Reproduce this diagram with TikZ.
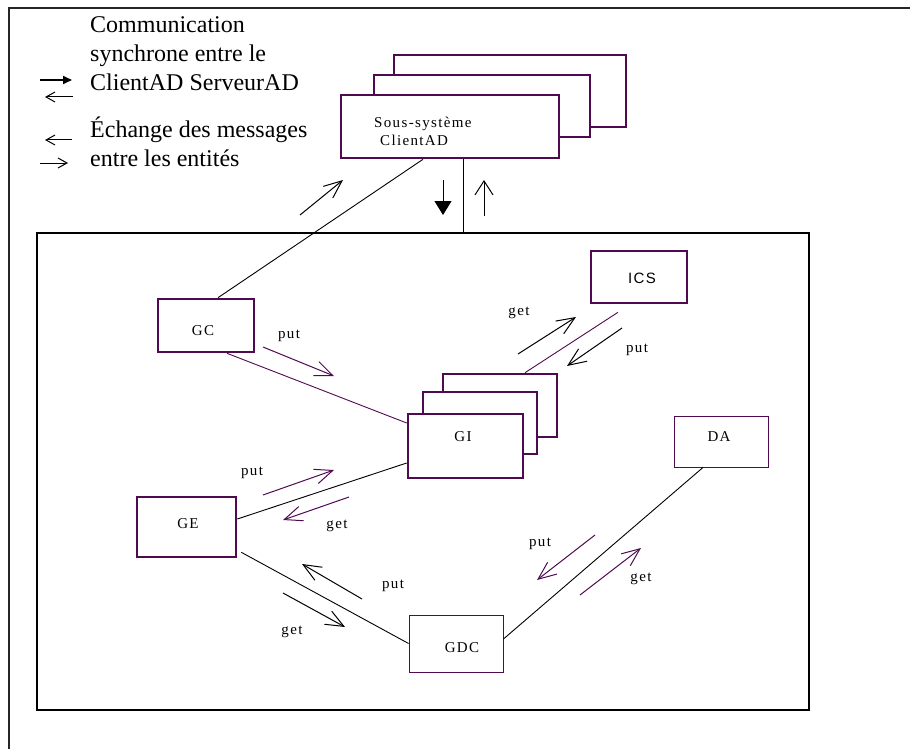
\documentclass[tikz,border=0pt]{standalone}
\usepackage{fontspec}
\setmainfont{Liberation Serif}
\newfontfamily\spacedfont[LetterSpace=9]{Liberation Serif}
\newfontfamily\spacedsans[LetterSpace=9]{Liberation Sans}
\usetikzlibrary{arrows.meta}
\definecolor{purp}{RGB}{80,10,80}

\begin{document}
\begin{tikzpicture}[x=1pt, y=-1pt,
  box/.style={rectangle, draw=purp, line width=2.6pt, fill=white, inner sep=0pt},
  thinbox/.style={rectangle, draw=purp, line width=0.9pt, fill=white, inner sep=0pt},
  lbl/.style={inner sep=0pt, font=\spacedfont\fontsize{15}{18}\selectfont},
  legend/.style={anchor=base west, inner sep=0pt, font=\fontsize{24}{28}\selectfont},
  arrow/.style={-{Straight Barb[length=18pt,width=15pt]}, line width=1pt},
  small/.style={-{Straight Barb[length=9pt,width=10pt]}, line width=1pt},
  link/.style={line width=0.9pt}]

\useasboundingbox (0,0) rectangle (910,749);
\draw[line width=1.2pt, black!85] (9,749) |- (910,8);

% Legend
\node[legend] (leg1) at (90,33) {Communication};
\node[legend] (leg2) at (90,62) {synchrone entre le};
\node[legend] (leg3) at (90,91) {ClientAD ServeurAD};
\node[legend] (leg4) at (90,138) {Échange des messages};
\node[legend] (leg5) at (90,166) {entre les entités};
\draw[line width=1.8pt, -{Triangle[length=9pt,width=8pt]}] (40,80) -- (72,80);
\draw[small] (73,97) -- (45,97);
\draw[small] (72,140) -- (45,140);
\draw[small] (40,163) -- (68,163);

% Sous-systeme ClientAD
\node[box, minimum width=232pt, minimum height=72pt] (client3) at (510,91) {};
\node[box, minimum width=216pt, minimum height=62pt] (client2) at (482,106) {};
\node[box, minimum width=218pt, minimum height=63pt] (client) at (450,126.5) {};
\node[lbl, align=left, anchor=north west] (clientlbl) at (374,116.7) {Sous-système\\\hspace{6pt}ClientAD};

% System frame
\node[draw, line width=2.6pt, minimum width=772pt, minimum height=477pt, inner sep=0pt] (sys) at (423,471.5) {};

% Entities
\node[box, minimum width=96pt, minimum height=53pt, label={[lbl, xshift=-3pt, yshift=-5.5pt]center:GC}] (GC) at (206,325.5) {};
\node[box, minimum width=96pt, minimum height=52pt, label={[inner sep=0pt, font=\spacedsans\fontsize{15}{18}\selectfont, xshift=3pt, yshift=-1pt]center:ICS}] (ICS) at (639,277) {};
\node[box, minimum width=114pt, minimum height=63pt] (GI3) at (500,405.5) {};
\node[box, minimum width=114pt, minimum height=62pt] (GI2) at (480,423) {};
\node[box, minimum width=115pt, minimum height=64pt, label={[lbl, xshift=-2.5pt, yshift=9pt]center:GI}] (GI) at (465.5,446) {};
\node[box, minimum width=99pt, minimum height=60pt, label={[lbl, xshift=1.5pt, yshift=3pt]center:GE}] (GE) at (186.5,527) {};
\node[thinbox, minimum width=94pt, minimum height=57pt, label={[lbl, xshift=6pt, yshift=-4.5pt]center:GDC}] (GDC) at (456,643.5) {};
\node[thinbox, minimum width=94pt, minimum height=51pt, label={[lbl, xshift=-2pt, yshift=4.5pt]center:DA}] (DA) at (721,441.5) {};

% Links
\draw[link] ([xshift=12pt]GC.north) -- ([xshift=-27pt]client.south);
\draw[link] ([xshift=13pt]client.south) -- ([xshift=13pt]client.south |- sys.north);
\draw[link, purp] ([xshift=21pt]GC.south) -- ([yshift=23pt]GI.west);
\draw[link, purp] ([xshift=-21pt,yshift=-8pt]ICS.south) -- ([xshift=25pt]GI3.north);
\draw[link] ([yshift=8pt]GE.east) -- ([yshift=-17pt]GI.west);
\draw[link] ([xshift=4pt,yshift=6pt]GE.south east) -- (GDC.west);
\draw[link] ([yshift=4.5pt]GDC.east) -- ([xshift=-18pt]DA.south);

% Arrows
\draw[arrow] (300,215) -- (343,180);
\draw[line width=1pt, -{Triangle[length=14pt,width=17pt]}] (443,180) -- (443,215);
\draw[arrow, -{Straight Barb[length=14pt,width=18pt]}] (484,216) -- (484,180);

\draw[arrow] (518,354) -- (576,317);
\node[lbl] (lget1) at (519,313) {get};
\draw[arrow] (622,328) -- (567,366);
\node[lbl] (lput1) at (637,350) {put};

\draw[arrow, purp] (263,347) -- (334,376);
\node[lbl] (lput2) at (289,336) {put};

\draw[arrow, purp] (263,495) -- (334,470);
\node[lbl] (lput3) at (252,473) {put};
\draw[arrow, purp] (349,497) -- (283,520);
\node[lbl] (lget3) at (337,526) {get};

\draw[arrow] (362,599) -- (302,564);
\node[lbl] (lput4) at (393,586) {put};
\draw[arrow] (283,593) -- (345,627);
\node[lbl] (lget4) at (292,632) {get};

\draw[arrow, purp] (595,535) -- (537,580);
\node[lbl] (lput5) at (540,544) {put};
\draw[arrow, purp] (580,595) -- (641,548);
\node[lbl] (lget5) at (641,579) {get};

\end{tikzpicture}
\end{document}
